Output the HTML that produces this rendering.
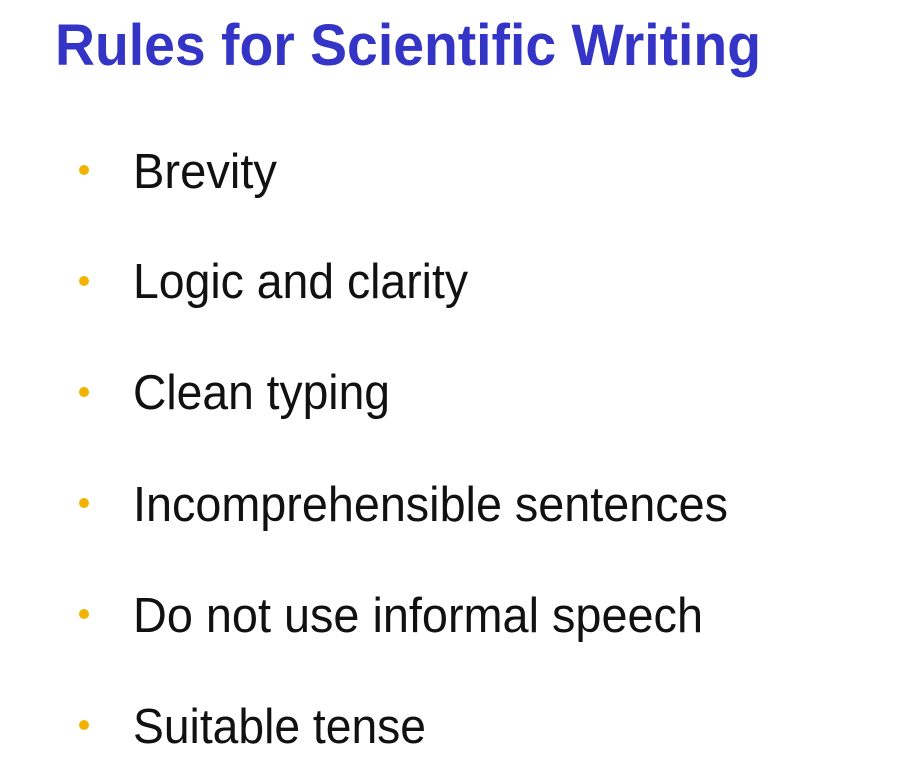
<!DOCTYPE html>
<html>
<head>
<meta charset="utf-8">
<style>
  html, body { margin: 0; padding: 0; background: #ffffff; }
  svg { display: block; }
  .title { font-family: "Liberation Sans", sans-serif; font-weight: bold; fill: #3434c6; }
  .item { font-family: "Liberation Sans", sans-serif; fill: #111111; }
  .dot { fill: #f2b300; }
</style>
</head>
<body>
<svg width="902" height="780" viewBox="0 0 902 780">
  <rect width="902" height="780" fill="#ffffff"/>
  <text class="title" x="55" y="65" font-size="58" textLength="706" lengthAdjust="spacingAndGlyphs">Rules for Scientific Writing</text>

  <g>
    <circle class="dot" cx="84" cy="170" r="5"/>
    <text class="item" x="133" y="188" font-size="49" textLength="144" lengthAdjust="spacingAndGlyphs">Brevity</text>
  </g>
  <g>
    <circle class="dot" cx="84" cy="281" r="5"/>
    <text class="item" x="133" y="298" font-size="49" textLength="335" lengthAdjust="spacingAndGlyphs">Logic and clarity</text>
  </g>
  <g>
    <circle class="dot" cx="84" cy="392" r="5"/>
    <text class="item" x="133" y="409" font-size="49" textLength="257" lengthAdjust="spacingAndGlyphs">Clean typing</text>
  </g>
  <g>
    <circle class="dot" cx="84" cy="503" r="5"/>
    <text class="item" x="133" y="521" font-size="49" textLength="595" lengthAdjust="spacingAndGlyphs">Incomprehensible sentences</text>
  </g>
  <g>
    <circle class="dot" cx="84" cy="614" r="5"/>
    <text class="item" x="133" y="632" font-size="49" textLength="570" lengthAdjust="spacingAndGlyphs">Do not use informal speech</text>
  </g>
  <g>
    <circle class="dot" cx="84" cy="725" r="5"/>
    <text class="item" x="133" y="743" font-size="49" textLength="293" lengthAdjust="spacingAndGlyphs">Suitable tense</text>
  </g>
</svg>
</body>
</html>
